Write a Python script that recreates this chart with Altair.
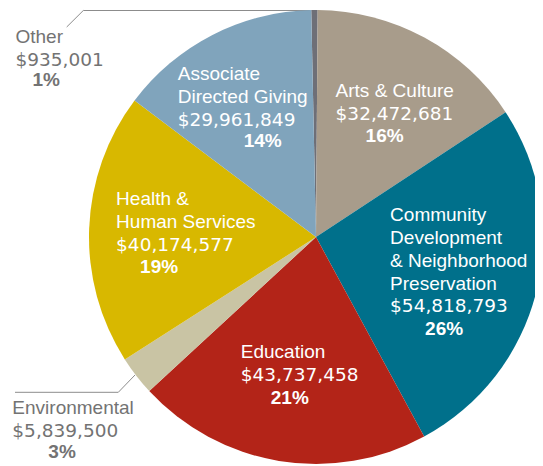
import math
import altair as alt
import pandas as pd

# ---- data ----
categories = ["Other", "Arts & Culture", "Community Development & Neighborhood Preservation",
              "Education", "Environmental", "Health & Human Services", "Associate Directed Giving"]
name_lines = ["Other", "Arts & Culture", "Community\nDevelopment\n& Neighborhood\nPreservation",
              "Education", "Environmental", "Health &\nHuman Services", "Associate\nDirected Giving"]
amounts = [935001, 32472681, 54818793, 43737458, 5839500, 40174577, 29961849]
percent_labels = ["1%", "16%", "26%", "21%", "3%", "19%", "14%"]
colors = ["#6e6f77", "#a89c8b", "#00708b", "#b32418", "#c9c4a4", "#d8b800", "#80a4bc"]

df = pd.DataFrame({
    "cat": categories,
    "name": name_lines,
    "value": amounts,
    "pct": percent_labels,
    "ord": list(range(len(categories))),
})
df["amt"] = df["value"].map(lambda v: f"${v:,}")

R = 227
OFF = math.radians(-1.2)
FONT = "Liberation Sans"
LH = 22.8
theta_scale = alt.Scale(range=[OFF, 2 * math.pi + OFF])

base = alt.Chart(df)

arcs = base.mark_arc(outerRadius=R, strokeWidth=0).encode(
    theta=alt.Theta("value:Q", stack=True, scale=theta_scale),
    color=alt.Color("cat:N", scale=alt.Scale(domain=categories, range=colors), legend=None),
    order=alt.Order("ord:Q"),
)

# label styling: (anchor radius, dx, dy for name block, dx, dy for percent, colour)
style = {
    "Other": (R, -299, 33, -282, 76, "#737373"),
    "Arts & Culture": (130, -42.5, -26, -12.5, 19, "white"),
    "Community Development & Neighborhood Preservation": (130, -52, -48, -17, 66, "white"),
    "Education": (130, -54, -7.5, -24, 38.5, "white"),
    "Environmental": (R, -124, 38, -88, 82.5, "#737373"),
    "Health & Human Services": (130, -70, -27, -46, 40.5, "white"),
    "Associate Directed Giving": (130, -79, -41, -13, 25.5, "white"),
}

layers = []

# leader lines (annotation)
one = pd.DataFrame({"k": [0]})
segs = [
    (38, 365, 21.3, 382.3), (21.3, 382.3, -82, 382.3),
    (213, 0.5, -13.7, 0.5), (-13.7, 0.5, -30.3, 17),
]
for x1, y1, x2, y2 in segs:
    layers.append(
        alt.Chart(one).mark_rule(color="#8c8c8c", strokeWidth=1).encode(
            x=alt.value(x1), y=alt.value(y1), x2=alt.value(x2), y2=alt.value(y2)
        )
    )

layers.append(arcs)


def label_layer(cat, field, rad, dx, dy, col, **kw):
    cat_js = cat.replace("'", "\\'")
    return base.transform_calculate(
        lbl=f"datum.cat === '{cat_js}' ? datum.{field} : ''"
    ).mark_text(
        radius=rad, dx=dx, dy=dy, align="left", baseline="alphabetic", color=col, **kw
    ).encode(
        theta=alt.Theta("value:Q", stack=True, scale=theta_scale),
        order=alt.Order("ord:Q"),
        detail="cat:N",
        text="lbl:N",
    )


for cat, nm in zip(categories, name_lines):
    rad, dx, dy, pdx, pdy, col = style[cat]
    n = nm.count("\n") + 1
    layers.append(label_layer(cat, "name", rad, dx, dy, col,
                              font=FONT, fontSize=19, lineHeight=23, lineBreak="\n"))
    layers.append(label_layer(cat, "amt", rad, dx, dy + LH * n, col,
                              font="DejaVu Sans", fontSize=18.5))
    layers.append(label_layer(cat, "pct", rad, pdx, pdy, col,
                              font=FONT, fontSize=19, fontWeight="bold"))

chart = alt.layer(*layers).properties(
    width=438, height=454,
    autosize=alt.AutoSizeParams(type="none"),
    padding={"left": 89, "top": 2, "right": 0, "bottom": 0},
).configure_view(strokeWidth=0)

chart.save("out.html", embed_options={"renderer": "svg", "actions": False})
